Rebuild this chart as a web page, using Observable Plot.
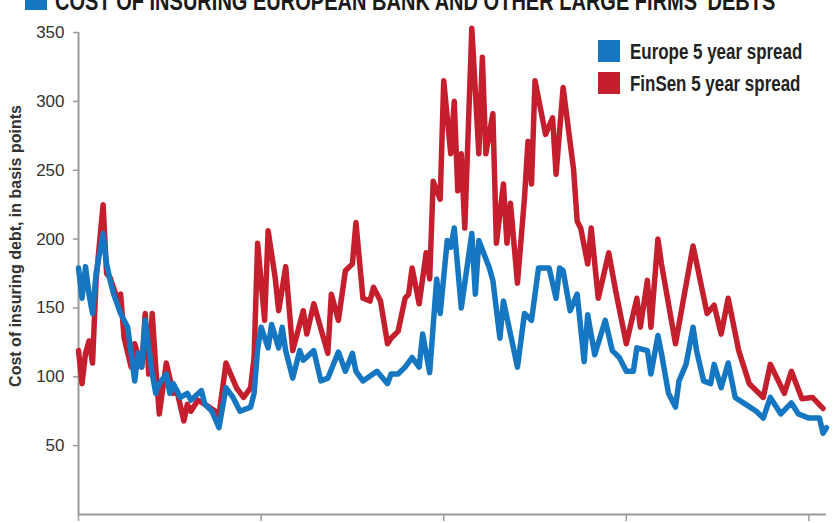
<!DOCTYPE html>
<html>
<head>
<meta charset="utf-8">
<script src="https://cdn.jsdelivr.net/npm/d3@7"></script>
<script src="https://cdn.jsdelivr.net/npm/@observablehq/plot@0.6"></script>
<style>
  body { margin: 0; background: #fff; }
  #wrap { position: relative; width: 839px; height: 523px; overflow: hidden; font-family: "Liberation Sans", Arial, sans-serif; }
  #chart { position: absolute; left: 0; top: 0; }
  .sq { position: absolute; width: 22px; height: 22px; }
  .txt { position: absolute; font-weight: bold; white-space: nowrap; transform-origin: 0 0; }
  #title { left: 55px; top: -12px; font-size: 26px; line-height: 26px; color: #1a1a1a; transform: scaleX(0.77); }
  #ylabel { position: absolute; left: 16px; top: 246px; transform: translate(-50%, -50%) rotate(-90deg); font-size: 16px; font-weight: bold; color: #333; white-space: nowrap; }
  .leg { font-size: 22px; line-height: 22px; color: #222; transform: scaleX(0.77); }
</style>
</head>
<body>
<div id="wrap">
  <div id="chart"></div>
  <div class="sq" style="left:25px; top:-12px; background:#1577c2"></div>
  <div class="txt" id="title">COST OF INSURING EUROPEAN BANK AND OTHER LARGE FIRMS' DEBTS</div>
  <div id="ylabel">Cost of insuring debt, in basis points</div>
</div>
<script>
// weekly spreads, basis points
const europeWeeks = [0,1,2,3,4,5,7,8,9,10,12,14,15,16,17,18,19,21,22,23,25,26,27,29,31,32,35,36,38,40,42,44,46,49,50,51,52,54,55,57,58,59,61,63,64,67,69,71,74,76,78,79,81,85,88,89,91,93,95,97,98,100,102,103,105,106,107,109,112,113,114,117,118,120,121,123,125,127,129,131,134,136,137,138,140,142,144,145,147,150,152,154,156,158,159,162,163,165,166,168,170,171,173,175,176,178,180,181,183,185,187,190,193,195,197,200,203,205,208,211,212,213];
const europeSpread = [179,157,180,160,146,175,204,182,170,160,146,136,117,97,117,107,141,102,88,95,102,88,95,85,88,83,90,80,75,63,92,85,75,78,88,120,136,121,138,121,136,119,99,119,112,119,97,99,118,104,117,104,97,104,95,102,102,107,114,107,131,103,171,146,199,194,208,150,204,160,199,179,170,128,155,131,107,146,141,179,179,157,179,177,148,160,111,145,116,141,119,114,104,104,121,119,102,130,117,88,78,97,109,136,119,97,95,109,92,110,85,80,75,70,85,73,81,73,70,70,59,63];

const finsenWeeks = [0,1,2,3,4,5,7,8,9,11,12,13,15,16,18,19,20,21,22,23,25,27,28,30,31,32,34,36,39,40,42,45,47,49,50,51,53,54,56,57,59,61,64,65,67,71,72,74,76,78,79,81,83,84,86,88,89,91,93,94,95,97,99,100,101,103,104,106,107,108,109,110,112,114,115,116,118,119,121,122,123,125,127,128,129,130,133,135,136,138,141,142,143,145,146,148,151,153,156,159,160,162,163,165,166,170,175,179,181,183,185,188,191,195,197,201,203,206,209,212];
const finsenSpread = [119,95,117,126,110,170,225,175,172,157,160,128,107,124,107,146,102,146,107,73,110,88,90,68,80,75,83,80,75,72,110,92,85,92,114,197,141,206,172,148,180,119,148,131,153,117,160,141,177,182,212,157,155,165,155,124,128,133,157,160,179,153,190,171,242,229,315,262,300,235,262,208,353,262,332,262,291,197,240,197,226,168,230,271,240,315,276,288,247,310,250,213,208,182,208,157,190,162,124,157,136,170,136,200,182,124,195,146,152,131,157,119,95,85,109,88,104,84,85,77];

const seriesNames = ["Europe 5 year spread", "FinSen 5 year spread"];
const seriesColors = ["#1577c2", "#c51f2e"];
const yTicks = [50, 100, 150, 200, 250, 300, 350];
const xTicks = [0, 52, 104, 156, 208];

const europe = europeWeeks.map((w, i) => ({week: w, bp: europeSpread[i]}));
const finsen = finsenWeeks.map((w, i) => ({week: w, bp: finsenSpread[i]}));

const chart = Plot.plot({
  width: 839,
  height: 523,
  marginTop: 32,
  marginBottom: 9,
  marginLeft: 78,
  marginRight: 13,
  style: {fontFamily: "'Liberation Sans', Arial, sans-serif", fontSize: "17px", color: "#333", background: "transparent"},
  x: {domain: [0, 213]},
  y: {domain: [0, 350]},
  marks: [
    Plot.axisY({ticks: yTicks, tickSize: 5, tickPadding: 9, label: null, stroke: "#999", strokeWidth: 1.5}),
    Plot.axisX({ticks: xTicks, tickSize: 7, tickFormat: () => "", label: null, stroke: "#999", strokeWidth: 1.5}),
    Plot.ruleX([0], {stroke: "#999", strokeWidth: 2}),
    Plot.ruleY([0], {stroke: "#999", strokeWidth: 2}),
    Plot.lineY(finsen, {x: "week", y: "bp", stroke: seriesColors[1], strokeWidth: 5.5}),
    Plot.lineY(europe, {x: "week", y: "bp", stroke: seriesColors[0], strokeWidth: 5.5})
  ]
});
document.getElementById("chart").append(chart);

// legend, top right
const wrap = d3.select("#wrap");
seriesNames.forEach((n, i) => {
  wrap.append("div").attr("class", "sq")
    .style("left", "598px").style("top", (40 + i * 32) + "px")
    .style("background", seriesColors[i]);
  wrap.append("div").attr("class", "txt leg")
    .style("left", "630px").style("top", (41 + i * 32) + "px")
    .text(n);
});
</script>
</body>
</html>
